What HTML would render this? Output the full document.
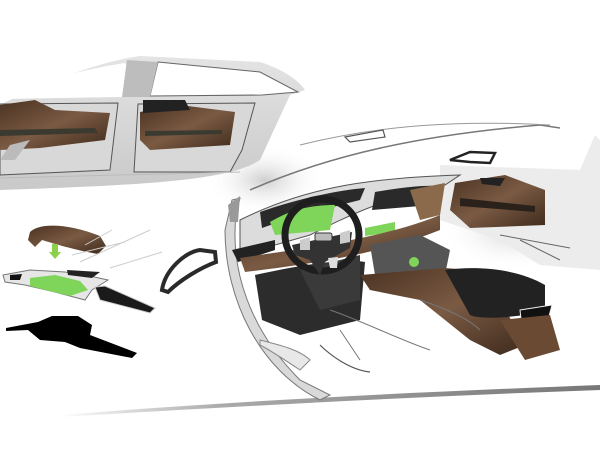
<!DOCTYPE html>
<html><head><meta charset="utf-8"><style>
html,body{margin:0;padding:0;background:#fff;width:600px;height:450px;overflow:hidden}
svg{display:block}
</style></head><body>
<svg width="600" height="450" viewBox="0 0 600 450" xmlns="http://www.w3.org/2000/svg">
<defs>
<linearGradient id="g1" x1="0" y1="0" x2="0" y2="1"><stop offset="0" stop-color="#e4e4e4"/><stop offset="1" stop-color="#c9c9c9"/></linearGradient>
<linearGradient id="br" x1="0" y1="0" x2="1" y2="1"><stop offset="0" stop-color="#4a3222"/><stop offset=".5" stop-color="#7a5a43"/><stop offset="1" stop-color="#3e2a1c"/></linearGradient>
<linearGradient id="gs" x1="0" y1="0" x2="1" y2="0"><stop offset="0" stop-color="#fff"/><stop offset=".3" stop-color="#aaa"/><stop offset="1" stop-color="#777"/></linearGradient>
<radialGradient id="sh" cx=".5" cy=".5" r=".5"><stop offset="0" stop-color="#cfcfcf"/><stop offset="1" stop-color="#fff" stop-opacity="0"/></radialGradient>
</defs>
<ellipse cx="265" cy="180" rx="60" ry="35" fill="url(#sh)"/>
<ellipse cx="520" cy="230" rx="80" ry="40" fill="url(#sh)"/>
<!-- top side view body -->
<path d="M0,105 C60,75 110,60 140,56 L260,62 C285,70 300,82 305,90 L290,95 L260,160 C230,180 150,185 0,190 Z" fill="url(#g1)"/>
<path d="M0,100 C40,80 90,68 125,63 L128,68 L122,97 L0,99 Z" fill="#fff"/>
<path d="M158,62 L260,72 L298,92 L262,95 L150,96 Z" fill="#fff" stroke="#666" stroke-width="1"/>
<path d="M127,60 L158,62 L150,97 L122,97 Z" fill="#bdbdbd"/>
<path d="M0,104 L118,103 L110,170 L0,175 Z" fill="#d8d8d8" stroke="#555" stroke-width="1"/>
<path d="M138,104 L255,103 L242,150 L230,172 L134,172 Z" fill="#d8d8d8" stroke="#555" stroke-width="1"/>
<path d="M0,105 L35,100 L55,110 L110,113 L105,140 L40,148 L0,150 Z" fill="url(#br)"/>
<path d="M140,112 L180,105 L235,112 L230,145 L150,150 L140,140 Z" fill="url(#br)"/>
<path d="M143,100 L185,100 L190,110 L143,113 Z" fill="#222"/>
<path d="M0,130 L95,128 L98,133 L0,136 Z" fill="#3a3a30"/>
<path d="M145,131 L222,130 L222,134 L145,136 Z" fill="#3a3a30"/>
<path d="M10,145 L30,140 L15,160 L0,160 Z" fill="#bbb"/>
<path d="M0,178 L240,172" stroke="#bbb" stroke-width="1"/>
<!-- ground line -->
<path d="M60,415 C250,400 420,392 600,385 L600,390 C430,396 260,405 60,417 Z" fill="url(#gs)"/>
<!-- interior outer roof lines -->
<path d="M250,190 C330,155 420,135 540,125 L560,128" fill="none" stroke="#777" stroke-width="1.5"/>
<path d="M300,145 C380,125 460,120 550,125" fill="none" stroke="#999" stroke-width="1"/>
<path d="M345,137 L383,130 L385,137 L350,142 Z" fill="none" stroke="#555" stroke-width="1.2"/>
<!-- right door area -->
<path d="M440,165 L580,170 L595,135 L600,140 L600,270 L540,265 L500,240 L440,220 Z" fill="#ececec"/>
<path d="M455,183 L505,175 L545,190 L545,225 L470,228 L450,210 Z" fill="url(#br)"/>
<path d="M460,198 L535,206 L535,212 L460,206 Z" fill="#2a221a"/>
<path d="M450,160 L470,152 L495,153 L490,163 L470,162 Z" fill="#fff" stroke="#222" stroke-width="2.5"/>
<path d="M480,178 L505,178 L500,186 L482,184 Z" fill="#222"/>
<!-- A pillar left -->
<path d="M232,200 L240,198 L236,215 C230,270 250,330 300,380 L330,395 L320,400 C260,370 225,300 225,230 Z" fill="#d9d9d9" stroke="#777" stroke-width="1"/>
<path d="M228,205 L240,196 L238,222 L230,222 Z" fill="#999"/>
<!-- dashboard -->
<path d="M240,220 C300,190 360,178 460,175 L445,185 C380,200 350,215 310,235 L240,255 Z" fill="#dcdcdc" stroke="#555" stroke-width="1"/>
<path d="M260,212 C300,198 340,190 365,188 L360,200 C320,210 290,218 262,228 Z" fill="#2a2a2a"/>
<path d="M375,192 C400,188 420,185 440,186 L432,205 L372,210 Z" fill="#2a2a2a"/>
<path d="M270,222 C290,210 310,205 335,205 L330,230 L275,235 Z" fill="#7fd45a"/>
<path d="M365,228 L395,222 L395,232 L365,236 Z" fill="#7fd45a"/>
<path d="M410,190 L445,183 L440,215 L420,220 Z" fill="#8a6a4a"/>
<path d="M232,250 L275,240 L275,250 L238,262 Z" fill="#222"/>
<path d="M240,258 C290,250 380,240 440,215 L440,230 C390,250 330,262 245,272 Z" fill="url(#br)"/>
<!-- footwell -->
<path d="M255,275 C300,265 345,258 365,262 L360,320 L300,335 L262,320 Z" fill="#2c2c2c"/>
<path d="M300,270 L360,255 L360,300 L320,310 Z" fill="#3a3a3a"/>
<!-- steering wheel -->
<ellipse cx="322" cy="235" rx="37" ry="36" fill="none" stroke="#1e1e1e" stroke-width="7"/>
<path d="M292,245 L352,232 L350,248 L325,262 L320,275 L310,260 L295,255 Z" fill="#333"/>
<rect x="315" y="233" width="17" height="8" rx="2" fill="#bbb" stroke="#333"/>
<path d="M300,240 L310,237 L310,250 L300,250 Z" fill="#ccc"/>
<path d="M340,233 L350,230 L350,242 L340,244 Z" fill="#ccc"/>
<path d="M328,258 L338,257 L337,268 L330,268 Z" fill="#ddd"/>
<!-- console -->
<path d="M370,245 L420,235 L450,250 L445,275 L400,285 L375,275 Z" fill="#555"/>
<circle cx="414" cy="262" r="5" fill="#7fd45a"/>
<path d="M360,275 L445,268 L470,270 L500,300 L525,345 L500,355 L470,340 L420,300 L370,290 Z" fill="url(#br)"/>
<path d="M445,270 C480,265 520,270 545,285 L545,310 C520,318 480,320 470,315 Z" fill="#222"/>
<path d="M520,310 L552,305 L548,320 L522,328 Z" fill="#111" stroke="#eee" stroke-width="1"/>
<path d="M500,320 L550,315 L560,350 L525,360 Z" fill="#6a4a33"/>
<!-- seat lines -->
<path d="M330,310 C360,320 400,340 430,350 M340,330 L350,345 L360,360 M420,300 C450,310 470,320 480,330" fill="none" stroke="#777" stroke-width="1"/>
<path d="M320,345 C330,355 350,370 370,372" fill="none" stroke="#555" stroke-width="1.2"/>
<path d="M520,240 L560,260 M500,235 L570,248" stroke="#666" stroke-width="1" fill="none"/>
<path d="M260,340 C280,345 300,350 310,360 L300,370 C285,360 270,350 260,345 Z" fill="#e8e8e8" stroke="#888"/>
<!-- exploded parts -->
<path d="M30,232 C40,222 70,224 100,236 L106,246 L98,254 C75,250 55,244 42,240 L35,247 L28,240 Z" fill="url(#br)"/>
<path d="M52,244 L58,244 L58,252 L61,252 L55,259 L49,252 L52,252 Z" fill="#8ccf4a"/>
<path d="M85,245 L112,230 M72,255 L125,242 M80,262 L150,230 M110,268 L162,252" stroke="#ccc" stroke-width="1"/>
<path d="M3,275 L30,270 L65,272 L90,276 L108,280 L92,290 L85,300 L55,292 L25,285 L5,282 Z" fill="#e6e6e6" stroke="#777" stroke-width="1"/>
<path d="M30,278 L55,275 L80,281 L88,290 L70,296 L45,290 L30,286 Z" fill="#7fd45a"/>
<path d="M10,275 L22,274 L20,280 L10,280 Z" fill="#111"/>
<path d="M67,270 L100,272 L92,278 L68,275 Z" fill="#222"/>
<path d="M95,287 L105,286 L155,308 L150,313 L100,300 Z" fill="#1a1a1a" stroke="#ccc" stroke-width="1"/>
<path d="M6,328 L38,322 L52,316 L78,316 L92,325 L90,335 L137,353 L132,358 L80,348 L65,342 L40,340 L28,330 L6,331 Z" fill="#000"/>
<path d="M162,290 C165,270 185,252 200,250 L215,252 L216,262 C200,268 180,280 168,292 Z" fill="none" stroke="#2a2a2a" stroke-width="4"/>
</svg>
</body></html>
